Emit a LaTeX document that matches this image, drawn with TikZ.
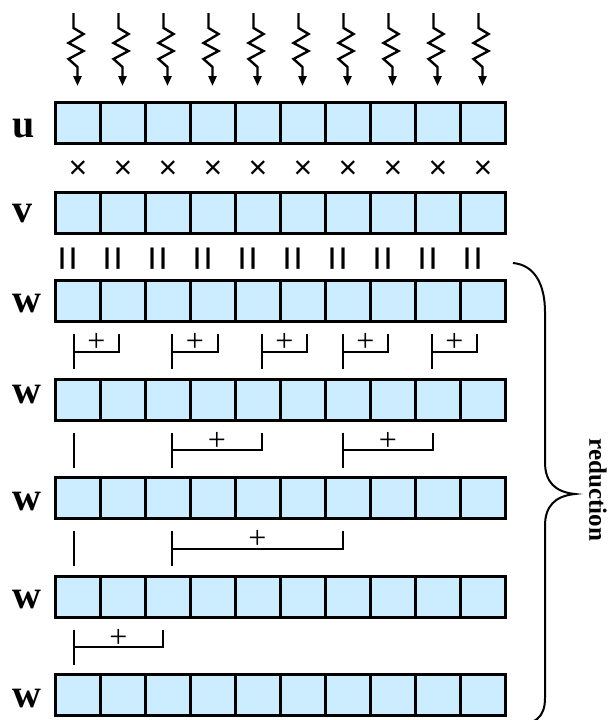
\documentclass[tikz,border=0pt]{standalone}
\usepackage{fontspec}
\setmainfont{Liberation Serif}
\newfontfamily\sansf{Liberation Sans}
\usetikzlibrary{arrows.meta,calc}
\definecolor{cellblue}{RGB}{204,236,255}
\newcommand{\pairbr}[3]{%
  \draw[brk] (#2,#1+12.5) -- (#2,#1+47.5);
  \draw[brk] (#2,#1+30) -- (#3,#1+30) -- (#3,#1+12.5);
  \node[plus] at ({(#2+#3)/2},#1+21) {+};}
\newcommand{\singlebr}[2]{%
  \draw[brk] (#2,#1+12.5) -- (#2,#1+47.5);}
\begin{document}
\begin{tikzpicture}[x=1pt,y=-1pt,
  cell/.style={draw=black, fill=cellblue, line width=3pt, minimum width=45pt,
    minimum height=41pt, inner sep=0pt, outer sep=0pt},
  lab/.style={font=\fontsize{40}{40}\selectfont\bfseries, anchor=base west, inner sep=0pt},
  timesop/.style={font=\sansf\fontsize{32}{32}\selectfont, inner sep=0pt},
  eqop/.style={font=\sansf\fontsize{44}{44}\selectfont, inner sep=0pt, rotate=90},
  plus/.style={font=\fontsize{32}{32}\selectfont, inner sep=0pt},
  brk/.style={line width=2pt},
  wavy/.style={line width=2.4pt, line join=miter, -{Triangle[length=10pt,width=8pt]}},
  bracestyle/.style={line width=2pt}]
\useasboundingbox (0,0) rectangle (611,720);
% arrays
\foreach \r/\y in {u/122.5, v/212.5, wa/301, wb/399.5, wc/498, wd/596.5, we/695} {
  \foreach \i in {0,...,9} {
    \node[cell] (\r-\i) at (78+45*\i, \y) {};
  }
}
% labels
\node[lab] (lu) at (12,137) {u};
\node[lab] (lv) at (12,222) {v};
\node[lab] (lwa) at (12,312) {w};
\node[lab] (lwb) at (12,403) {w};
\node[lab] (lwc) at (12,510) {w};
\node[lab] (lwd) at (12,608) {w};
\node[lab] (lwe) at (12,707) {w};
% wavy input arrows
\foreach \i in {0,...,9} {
  \coordinate (in\i) at ($(u-\i.north)+(-4.5,-89)$);
  \draw[wavy] (in\i) -- ++(0,15) -- ++(10,6) -- ++(-15,9) -- ++(15,8) -- ++(-15,8) -- ++(9,8)
     -- ($(u-\i.north)+(-0.5,-16)$);
}
% multiplication and equal signs
\foreach \i in {0,...,9} {
  \node[timesop] (x\i) at (78+45*\i, 170) {×};
  \node[eqop] (e\i) at (72+45*\i, 258.5) {=};
}
% reduction brackets
\pairbr{321.5}{74}{119}
\pairbr{321.5}{172}{218}
\pairbr{321.5}{262}{307}
\pairbr{321.5}{343}{388}
\pairbr{321.5}{432}{477}
\singlebr{420}{74}
\pairbr{420}{172}{262}
\pairbr{420}{343}{433}
\singlebr{518.5}{74}
\pairbr{518.5}{172}{343}
\pairbr{617}{74}{163}
% brace
\draw[bracestyle] (513,263) .. controls (535,265) and (545,285) .. (545,312)
  -- (545,462) .. controls (545,482) and (555,492) .. (575,494)
  .. controls (555,496) and (545,506) .. (545,526)
  -- (545,698) .. controls (545,718) and (535,724) .. (513,727);
\node[font=\fontsize{25}{25}\selectfont\bfseries, rotate=-90, inner sep=0pt] (red) at (598,490) {reduction};
\end{tikzpicture}
\end{document}
